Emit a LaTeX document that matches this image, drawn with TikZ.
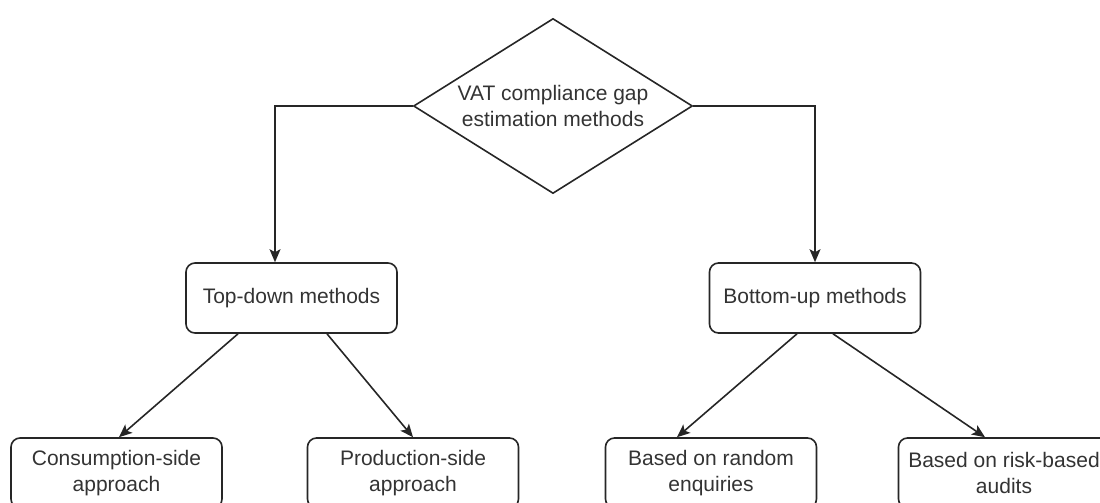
\documentclass[tikz,border=0pt]{standalone}
\usepackage{fontspec}
\setmainfont{Liberation Sans}
\usepackage{tikz}
\usetikzlibrary{shapes.geometric,arrows.meta}

\tikzset{
  methodbox/.style={draw=black!85, line width=1.6pt, rounded corners=9pt,
    minimum width=211pt, minimum height=70pt, inner sep=0pt, align=center,
    text=black!80, font=\fontsize{21}{25.2}\selectfont},
  gapdiamond/.style={draw=black!85, line width=1.6pt, diamond, aspect=1.6,
    minimum width=279pt, minimum height=175pt, inner sep=0pt, align=center,
    text=black!80, font=\fontsize{21}{25.2}\selectfont},
  link/.style={draw=black!85, line width=1.6pt,
    -{Stealth[length=13pt,width=11pt,inset=3pt]}}
}

\begin{document}
\begin{tikzpicture}[x=1pt,y=-1pt]
\useasboundingbox (0,0) rectangle (1100,503);
% top level:
\node[gapdiamond] (gap) at (553,106) {VAT compliance gap\\estimation methods};
% second level:
\node[methodbox] (topdown) at (291.5,298) {Top-down methods};
\node[methodbox] (bottomup) at (815,298) {Bottom-up methods};
% third level:
\node[methodbox] (consumption) at (116.5,473) {Consumption-side\\approach};
\node[methodbox] (production) at (413,473) {Production-side\\approach};
\node[methodbox] (random) at (711,473) {Based on random\\enquiries};
\node[methodbox] (riskbased) at (1004,473) {Based on risk-based\\audits};
% connectors:
\draw[link] (gap.west) -| ([xshift=-16.5pt]topdown.north);
\draw[link] (gap.east) -| (bottomup.north);
\draw[link] ([xshift=-53.5pt]topdown.south) -- ([xshift=2.5pt]consumption.north);
\draw[link] ([xshift=35.5pt]topdown.south) -- (production.north);
\draw[link] ([xshift=-18pt]bottomup.south) -- ([xshift=-34pt]random.north);
\draw[link] ([xshift=18pt]bottomup.south) -- ([xshift=-19pt]riskbased.north);
\end{tikzpicture}
\end{document}
